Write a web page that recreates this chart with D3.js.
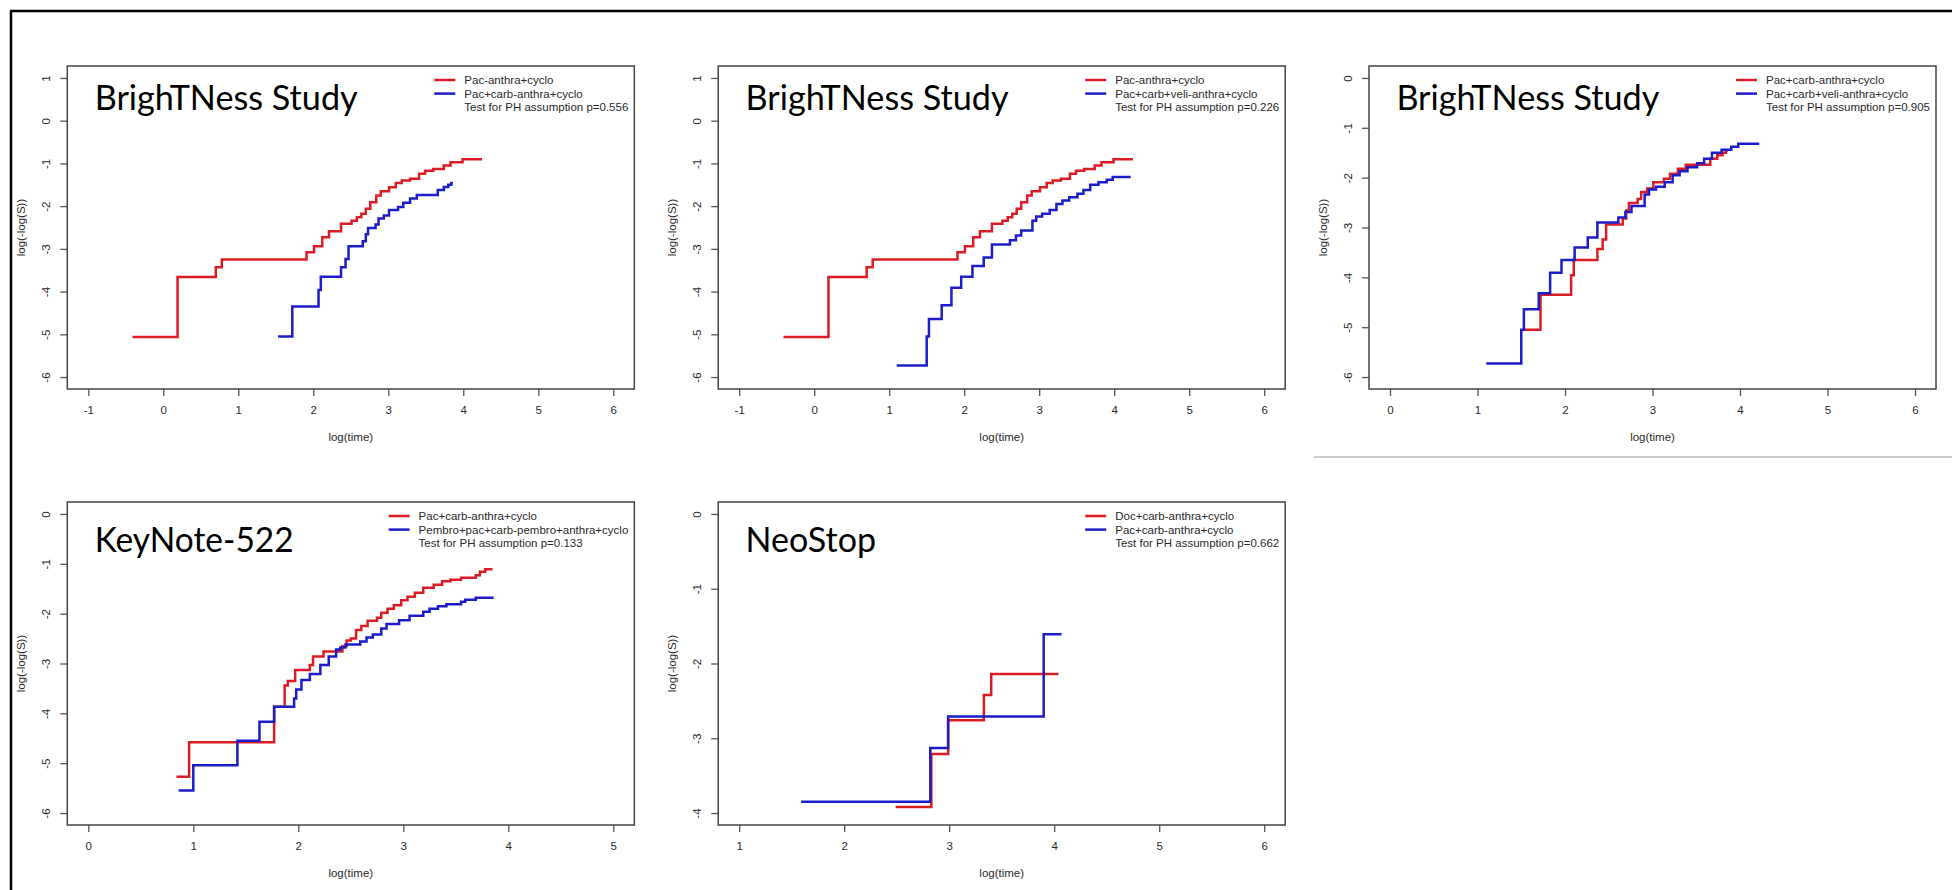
<!DOCTYPE html>
<html>
<head>
<meta charset="utf-8">
<script src="https://cdn.jsdelivr.net/npm/d3@7/dist/d3.min.js"></script>
<style>
  body { margin: 0; background: #fff; }
  text { font-family: "Liberation Sans", Arial, sans-serif; }
</style>
</head>
<body>
<script>
// step curves, [log(time), log(-log(S))] at the start of each step
var pacAnthra = [[-0.41,-5.06],[0.19,-3.66],[0.70,-3.43],[0.78,-3.25],[1.91,-3.08],[2.01,-2.94],[2.12,-2.73],[2.21,-2.59],[2.37,-2.41],[2.51,-2.34],[2.58,-2.26],[2.64,-2.18],[2.70,-2.06],[2.76,-1.91],[2.84,-1.75],[2.90,-1.65],[3.01,-1.56],[3.10,-1.46],[3.18,-1.40],[3.29,-1.36],[3.41,-1.24],[3.49,-1.17],[3.60,-1.13],[3.74,-1.05],[3.83,-0.97],[3.99,-0.90],[4.25,-0.90]];
var pacCarbAnthra = [[1.53,-5.05],[1.72,-4.35],[2.07,-3.96],[2.10,-3.65],[2.37,-3.43],[2.43,-3.24],[2.47,-2.94],[2.66,-2.82],[2.70,-2.66],[2.73,-2.51],[2.83,-2.43],[2.87,-2.29],[2.94,-2.22],[3.01,-2.09],[3.13,-2.02],[3.20,-1.92],[3.29,-1.82],[3.38,-1.74],[3.66,-1.62],[3.74,-1.55],[3.80,-1.50],[3.84,-1.46],[3.86,-1.46]];
var pacCarbVeli = [[1.10,-5.73],[1.50,-5.05],[1.53,-4.64],[1.70,-4.32],[1.83,-3.91],[1.96,-3.65],[2.11,-3.40],[2.26,-3.20],[2.37,-2.90],[2.61,-2.80],[2.69,-2.69],[2.76,-2.57],[2.91,-2.34],[2.96,-2.24],[3.04,-2.18],[3.14,-2.09],[3.23,-1.95],[3.31,-1.87],[3.40,-1.79],[3.51,-1.71],[3.59,-1.62],[3.68,-1.50],[3.79,-1.44],[3.90,-1.38],[3.98,-1.32],[4.22,-1.32]];
var knChemo = [[0.84,-5.27],[0.96,-4.58],[1.77,-3.87],[1.87,-3.44],[1.90,-3.35],[1.97,-3.13],[2.11,-3.03],[2.14,-2.86],[2.24,-2.76],[2.42,-2.65],[2.46,-2.54],[2.50,-2.50],[2.55,-2.33],[2.60,-2.25],[2.66,-2.14],[2.75,-2.08],[2.79,-1.98],[2.85,-1.90],[2.91,-1.83],[2.98,-1.73],[3.04,-1.66],[3.11,-1.58],[3.19,-1.48],[3.29,-1.42],[3.37,-1.35],[3.45,-1.32],[3.55,-1.28],[3.69,-1.23],[3.73,-1.16],[3.78,-1.11],[3.85,-1.11]];
var knPembro = [[0.86,-5.55],[1.00,-5.04],[1.42,-4.55],[1.63,-4.17],[1.77,-3.87],[1.96,-3.70],[1.98,-3.52],[2.03,-3.33],[2.11,-3.21],[2.21,-3.03],[2.29,-2.86],[2.36,-2.72],[2.40,-2.68],[2.45,-2.62],[2.59,-2.56],[2.65,-2.48],[2.71,-2.42],[2.79,-2.30],[2.84,-2.21],[2.96,-2.13],[3.06,-2.04],[3.19,-1.96],[3.25,-1.90],[3.33,-1.85],[3.41,-1.81],[3.55,-1.76],[3.59,-1.72],[3.69,-1.68],[3.86,-1.68]];
var neoDoc = [[2.49,-3.92],[2.83,-3.21],[2.99,-2.76],[3.33,-2.42],[3.40,-2.14],[4.04,-2.14]];
var neoPac = [[1.59,-3.85],[2.82,-3.13],[2.99,-2.71],[3.90,-1.61],[4.07,-1.61]];

var titles = ["BrighTNess Study", "BrighTNess Study", "BrighTNess Study", "KeyNote-522", "NeoStop"];
var redLabels = ["Pac-anthra+cyclo", "Pac-anthra+cyclo", "Pac+carb-anthra+cyclo", "Pac+carb-anthra+cyclo", "Doc+carb-anthra+cyclo"];
var blueLabels = ["Pac+carb-anthra+cyclo", "Pac+carb+veli-anthra+cyclo", "Pac+carb+veli-anthra+cyclo", "Pembro+pac+carb-pembro+anthra+cyclo", "Pac+carb-anthra+cyclo"];
var pValues = ["0.556", "0.226", "0.905", "0.133", "0.662"];
var xLims = [[-1, 6], [-1, 6], [0, 6], [0, 5], [1, 6]];
var yLims = [[-6, 1], [-6, 1], [-6, 0], [-6, 0], [-4, 0]];
var redSeries = [pacAnthra, pacAnthra, pacCarbAnthra, knChemo, neoDoc];
var blueSeries = [pacCarbAnthra, pacCarbVeli, pacCarbVeli, knPembro, neoPac];

var width = 1952, height = 890;
var colLeft = [67.3, 718.2, 1369], rowTop = [66, 502];
var frameW = 567, frameH = 323;
var titleW = [263, 263, 263, 199, 130.5];
var titleBase = [43.5, 43.5, 43.5, 49.5, 49.5];
var RED = "#dc1c24", BLUE = "#1c1cc8", INK = "#2a2a2a";

var svg = d3.select("body").append("svg")
    .attr("width", width)
    .attr("height", height);

// slide border and the edge of the pasted third picture
svg.append("path")
    .attr("d", "M11," + height + "V11H" + width)
    .attr("fill", "none").attr("stroke", "#000").attr("stroke-width", 2.5);
svg.append("line")
    .attr("x1", 1314).attr("x2", width).attr("y1", 457).attr("y2", 457)
    .attr("stroke", "#bcbcbc").attr("stroke-width", 1.5);

function expand(lim) {
  var pad = (lim[1] - lim[0]) * 0.04;
  return [lim[0] - pad, lim[1] + pad];
}
// R prints plain integers with an ascii hyphen
var rFormat = function(d) { return String(d); };

titles.forEach(function(title, i) {
  var fx = colLeft[i % 3], fy = rowTop[Math.floor(i / 3)];
  var x = d3.scaleLinear().domain(expand(xLims[i])).range([fx, fx + frameW]);
  var y = d3.scaleLinear().domain(expand(yLims[i])).range([fy + frameH, fy]);
  var g = svg.append("g");

  var xAxis = g.append("g")
      .attr("transform", "translate(0," + (fy + frameH) + ")")
      .call(d3.axisBottom(x).tickValues(d3.range(xLims[i][0], xLims[i][1] + 1))
        .tickFormat(rFormat).tickSize(7).tickPadding(10));
  var yAxis = g.append("g")
      .attr("transform", "translate(" + fx + ",0)")
      .call(d3.axisLeft(y).tickValues(d3.range(yLims[i][0], yLims[i][1] + 1))
        .tickFormat(rFormat).tickSize(7));
  [xAxis, yAxis].forEach(function(ax) {
    ax.select(".domain").remove();
    ax.selectAll("line").attr("stroke", "#555").attr("stroke-width", 1.3);
    ax.selectAll("text").attr("fill", INK).style("font-size", "11.5px")
        .style("font-family", "'Liberation Sans', Arial, sans-serif");
  });
  yAxis.selectAll("text")
      .attr("x", null).attr("dy", "0.35em")
      .attr("text-anchor", "middle")
      .attr("transform", "translate(-21,0) rotate(-90)");

  g.append("rect")
      .attr("x", fx).attr("y", fy).attr("width", frameW).attr("height", frameH)
      .attr("fill", "none").attr("stroke", "#444").attr("stroke-width", 1.5);

  g.append("text")
      .attr("x", fx + frameW / 2).attr("y", fy + frameH + 48).attr("dy", "0.35em")
      .attr("text-anchor", "middle").attr("fill", INK).style("font-size", "11.5px")
      .text("log(time)");
  g.append("text")
      .attr("transform", "translate(" + (fx - 46) + "," + (fy + frameH / 2) + ") rotate(-90)")
      .attr("dy", "0.35em")
      .attr("text-anchor", "middle").attr("fill", INK).style("font-size", "11.5px")
      .text("log(-log(S))");

  var line = d3.line()
      .x(function(d) { return x(d[0]); })
      .y(function(d) { return y(d[1]); })
      .curve(d3.curveStepAfter);
  g.append("path").datum(redSeries[i])
      .attr("d", line).attr("fill", "none").attr("stroke", RED).attr("stroke-width", 2.5);
  g.append("path").datum(blueSeries[i])
      .attr("d", line).attr("fill", "none").attr("stroke", BLUE).attr("stroke-width", 2.5);

  // legend, anchored top right like R's legend("topright", bty="n")
  var rows = [
    {label: redLabels[i], color: RED},
    {label: blueLabels[i], color: BLUE},
    {label: "Test for PH assumption p=" + pValues[i], color: null}
  ];
  var texts = g.selectAll(".leg").data(rows).enter().append("text")
      .attr("class", "leg")
      .attr("y", function(d, k) { return fy + 14 + k * 13.6; })
      .attr("dy", "0.35em").attr("fill", INK).style("font-size", "11.5px")
      .text(function(d) { return d.label; });
  var maxW = d3.max(texts.nodes(), function(n) { return n.getComputedTextLength(); });
  var tx = fx + frameW - 6 - maxW;
  texts.attr("x", tx);
  g.selectAll(".legline").data(rows.filter(function(d) { return d.color; })).enter().append("line")
      .attr("x1", tx - 30).attr("x2", tx - 9)
      .attr("y1", function(d, k) { return fy + 14 + k * 13.6; })
      .attr("y2", function(d, k) { return fy + 14 + k * 13.6; })
      .attr("stroke", function(d) { return d.color; }).attr("stroke-width", 2.5);

  g.append("text")
      .attr("x", fx + 27.4).attr("y", fy + titleBase[i])
      .attr("textLength", titleW[i]).attr("lengthAdjust", "spacingAndGlyphs")
      .attr("fill", "#000")
      .style("font-family", "Lato, 'Open Sans', sans-serif").style("font-size", "35px")
      .text(title);
});
</script>
</body>
</html>
